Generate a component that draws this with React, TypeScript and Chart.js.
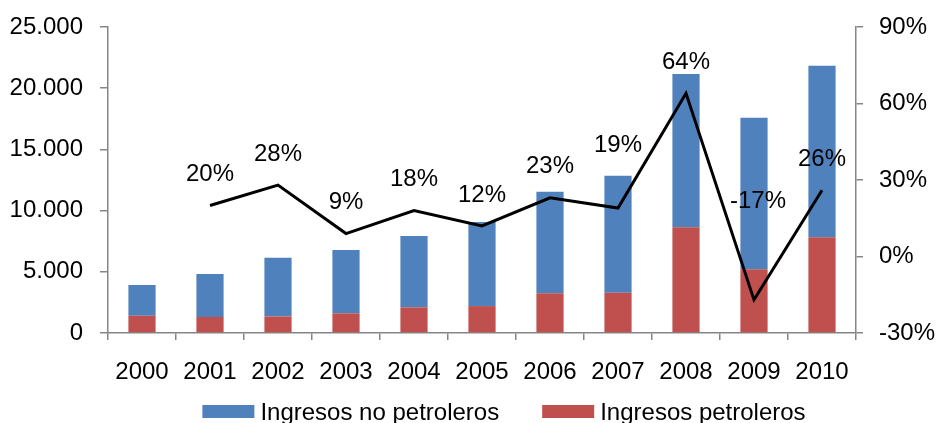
import React, { useEffect, useRef } from "react";
import { Chart, registerables } from "chart.js";

Chart.register(...registerables);

// ---------- data ----------
const years = ["2000", "2001", "2002", "2003", "2004", "2005", "2006", "2007", "2008", "2009", "2010"];
const ingresosPetroleros = [1410, 1310, 1360, 1610, 2100, 2200, 3240, 3290, 8630, 5200, 7820];
const ingresosNoPetroleros = [2510, 3510, 4790, 5170, 5820, 6870, 8310, 9560, 12530, 12390, 14020];
const crecimiento: (number | null)[] = [null, 20, 28, 9, 18, 12, 23, 19, 64, -17, 26];

const leftTicks = { min: 0, max: 25000, step: 5000 };
const rightTicks = { min: -30, max: 90, step: 30 };

// ---------- styles ----------
const FONT = "'Liberation Sans', Arial, sans-serif";
const FONT_SIZE = 24;
const BLUE = "#4F81BD";
const RED = "#C0504D";
const GRAY = "#868686";
// offset of each growth label from its point (px, negative = up)
const labelOffsetsY = [0, -31, -31, -31, -31, -31, -31, -63, -31, -98, -31];
const labelOffsetsX = [0, 0, 0, 0, 0, 0, 0, 0, 0, 4, 0];

const fmtThousands = (v: number) =>
  String(Math.round(v)).replace(/\B(?=(\d{3})+(?!\d))/g, ".");

const pointLabels = {
  id: "pointLabels",
  afterDatasetsDraw(chart: any) {
    const meta = chart.getDatasetMeta(0);
    const data = chart.data.datasets[0].data as (number | null)[];
    const ctx = chart.ctx as CanvasRenderingContext2D;
    ctx.save();
    ctx.font = `${FONT_SIZE}px ${FONT}`;
    ctx.fillStyle = "#000";
    ctx.textAlign = "center";
    ctx.textBaseline = "middle";
    meta.data.forEach((pt: any, i: number) => {
      const v = data[i];
      if (v === null || v === undefined) return;
      ctx.fillText(`${v}%`, pt.x + labelOffsetsX[i], pt.y + labelOffsetsY[i]);
    });
    ctx.restore();
  },
};

const customLegend = {
  id: "customLegend",
  afterDraw(chart: any) {
    const ctx = chart.ctx as CanvasRenderingContext2D;
    const area = chart.chartArea;
    const order = [2, 1];
    const BOX_W = 52;
    const BOX_H = 13;
    const GAP = 6;
    const ITEM_GAP = 43;
    ctx.save();
    ctx.font = `${FONT_SIZE}px ${FONT}`;
    const items = order.map((i) => chart.data.datasets[i]);
    const widths = items.map((ds: any) => BOX_W + GAP + ctx.measureText(ds.label).width);
    const total = widths.reduce((a: number, b: number) => a + b, 0) + ITEM_GAP * (items.length - 1);
    let x = (area.left + area.right) / 2 + 22 - total / 2;
    const boxTop = area.bottom + 72;
    const baseline = area.bottom + 87;
    items.forEach((ds: any, k: number) => {
      ctx.fillStyle = ds.backgroundColor;
      ctx.fillRect(x, boxTop, BOX_W, BOX_H);
      ctx.fillStyle = "#000";
      ctx.textAlign = "left";
      ctx.textBaseline = "alphabetic";
      ctx.fillText(ds.label, x + BOX_W + GAP, baseline);
      x += widths[k] + ITEM_GAP;
    });
    ctx.restore();
  },
};

export default function App() {
  const ref = useRef<HTMLCanvasElement>(null);

  useEffect(() => {
    document.body.style.margin = "0";
    const canvas = ref.current!;
    Chart.defaults.font.family = FONT;
    Chart.defaults.font.size = FONT_SIZE;
    Chart.defaults.color = "#000";

    const chart = new Chart(canvas, {
      type: "bar",
      data: {
        labels: years,
        datasets: [
          {
            type: "line",
            label: "Crecimiento",
            data: crecimiento,
            yAxisID: "y1",
            borderColor: "#000",
            borderWidth: 3,
            pointRadius: 0,
            tension: 0,
            order: 0,
          } as any,
          {
            type: "bar",
            label: "Ingresos petroleros",
            data: ingresosPetroleros,
            backgroundColor: RED,
            yAxisID: "y",
            stack: "s",
            order: 1,
            barPercentage: 0.4,
            categoryPercentage: 1,
          },
          {
            type: "bar",
            label: "Ingresos no petroleros",
            data: ingresosNoPetroleros,
            backgroundColor: BLUE,
            yAxisID: "y",
            stack: "s",
            order: 1,
            barPercentage: 0.4,
            categoryPercentage: 1,
          },
        ],
      },
      options: {
        responsive: false,
        animation: false,
        events: [],
        layout: { padding: { top: 27, left: 0, right: 0, bottom: 0 } },
        plugins: {
          legend: { display: false },
          tooltip: { enabled: false },
          title: { display: false },
        },
        scales: {
          x: {
            stacked: true,
            offset: true,
            grid: {
              display: true,
              drawOnChartArea: false,
              offset: true,
              tickLength: 7,
              color: GRAY,
              lineWidth: 1.5,
            },
            border: { color: GRAY, width: 1.5 },
            ticks: { color: "#000", padding: 18, maxRotation: 0, autoSkip: false },
            afterFit: (s: any) => {
              s.height = 90;
              s.paddingLeft = 0;
              s.paddingRight = 0;
            },
          },
          y: {
            stacked: true,
            position: "left",
            min: leftTicks.min,
            max: leftTicks.max,
            grid: { drawOnChartArea: false, tickLength: 8, color: GRAY, lineWidth: 1.5 },
            border: { color: GRAY, width: 1.5 },
            ticks: {
              stepSize: leftTicks.step,
              color: "#000",
              padding: 17,
              callback: (v: any) => fmtThousands(Number(v)),
            },
            afterFit: (s: any) => {
              s.width = 108;
              s.paddingTop = 0;
              s.paddingBottom = 0;
            },
          },
          y1: {
            stacked: false,
            position: "right",
            min: rightTicks.min,
            max: rightTicks.max,
            grid: { drawOnChartArea: false, tickLength: 7, color: GRAY, lineWidth: 1.5 },
            border: { color: GRAY, width: 1.5 },
            ticks: {
              stepSize: rightTicks.step,
              color: "#000",
              padding: 16,
              callback: (v: any) => `${v}%`,
            },
            afterFit: (s: any) => {
              s.width = 80;
              s.paddingTop = 0;
              s.paddingBottom = 0;
            },
          },
        },
      },
      plugins: [pointLabels, customLegend],
    });
    return () => chart.destroy();
  }, []);

  return (
    <div style={{ width: 936, height: 423, overflow: "hidden", background: "#fff" }}>
      <canvas ref={ref} width={936} height={423} style={{ display: "block" }} />
    </div>
  );
}
